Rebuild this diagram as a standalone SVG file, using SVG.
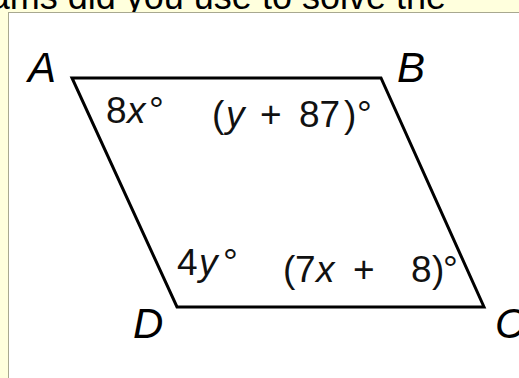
<svg xmlns="http://www.w3.org/2000/svg" width="519" height="378" viewBox="0 0 519 378">
  <style>
    .lbl { font-family: "Liberation Sans", Arial, sans-serif; font-size: 37px; fill: #111; }
    .pt { font-family: "Liberation Sans", Arial, sans-serif; font-size: 42px; font-style: italic; fill: #000; }
    .it { font-style: italic; }
  </style>
  <rect x="0" y="0" width="519" height="378" fill="#ffffdd"/>
  <text x="446" y="9" text-anchor="end" font-family="'Liberation Sans', Arial, sans-serif" font-size="36" fill="#000">ams did you use to solve the</text>
  <rect x="8.5" y="12.5" width="520" height="380" fill="#ffffff" stroke="#a8a890" stroke-width="1"/>
  <g id="parallelogram">
    <polygon points="72,78 381,78 484,307 177,307" fill="none" stroke="#000" stroke-width="3" stroke-linejoin="miter"/>
  </g>
  <g id="vertex-labels">
    <text class="pt" x="28" y="82">A</text>
    <text class="pt" x="397" y="82">B</text>
    <text class="pt" x="133" y="338">D</text>
    <text class="pt" x="495" y="338">C</text>
  </g>
  <g id="angle-labels">
    <text class="lbl" y="123"><tspan x="106">8</tspan><tspan x="127" class="it">x</tspan><tspan x="149">°</tspan></text>
    <text class="lbl" y="127"><tspan x="212">(</tspan><tspan x="226" class="it">y</tspan><tspan x="260">+</tspan><tspan x="299">87</tspan><tspan x="344">)</tspan><tspan x="357">°</tspan></text>
    <text class="lbl" y="275"><tspan x="177">4</tspan><tspan x="199" class="it">y</tspan><tspan x="223">°</tspan></text>
    <text class="lbl" y="282"><tspan x="283">(</tspan><tspan x="295">7</tspan><tspan x="316" class="it">x</tspan><tspan x="353">+</tspan><tspan x="411">8</tspan><tspan x="432">)</tspan><tspan x="443">°</tspan></text>
  </g>
</svg>
